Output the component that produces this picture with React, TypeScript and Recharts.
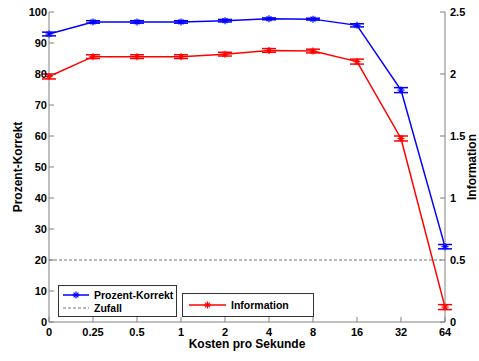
import React from 'react';
import { LineChart, Line, XAxis, YAxis, ErrorBar, ReferenceLine } from 'recharts';

const costs = ['0', '0.25', '0.5', '1', '2', '4', '8', '16', '32', '64'];
const percentCorrect = [92.9, 96.8, 96.8, 96.8, 97.2, 97.8, 97.7, 95.7, 74.8, 24.3];
const percentError = [0.6, 0.4, 0.4, 0.4, 0.4, 0.3, 0.3, 0.5, 0.8, 0.7];
const information = [1.98, 2.14, 2.14, 2.14, 2.16, 2.19, 2.185, 2.1, 1.48, 0.12];
const informationError = [0.02, 0.015, 0.015, 0.015, 0.015, 0.015, 0.015, 0.02, 0.02, 0.02];
const chanceLevel = 20;
const percentTicks = [0, 10, 20, 30, 40, 50, 60, 70, 80, 90, 100];
const infoTicks = [0, 0.5, 1, 1.5, 2, 2.5];

const data = costs.map((c, i) => ({
  cost: c,
  pc: percentCorrect[i],
  pcErr: percentError[i],
  info: information[i],
  infoErr: informationError[i],
}));

const FONT = '"Liberation Sans", Arial, sans-serif';
const AXIS = '#808080';
const tickStyle = { fontSize: 11, fill: '#000', fontWeight: 'bold' as const, fontFamily: FONT };

// MATLAB-style '*' marker
const Asterisk = (props: any) => {
  const { cx, cy, stroke } = props;
  if (cx == null || cy == null) return null;
  const r = 3.5;
  const d = r * 0.7;
  return (
    <g stroke={stroke} strokeWidth={1.2}>
      <line x1={cx - r} y1={cy} x2={cx + r} y2={cy} />
      <line x1={cx} y1={cy - r} x2={cx} y2={cy + r} />
      <line x1={cx - d} y1={cy - d} x2={cx + d} y2={cy + d} />
      <line x1={cx - d} y1={cy + d} x2={cx + d} y2={cy - d} />
    </g>
  );
};

const legendBox: React.CSSProperties = {
  position: 'absolute',
  background: '#fff',
  border: '1px solid #333',
  boxSizing: 'border-box',
  fontFamily: FONT,
  fontSize: 10.5,
  fontWeight: 'bold',
  color: '#000',
  whiteSpace: 'nowrap',
};

const legendRow: React.CSSProperties = {
  position: 'absolute',
  display: 'flex',
  alignItems: 'center',
  gap: 4,
  whiteSpace: 'nowrap',
  lineHeight: '12px',
};

const LegendLine = ({ color, dashed, star }: { color: string; dashed?: boolean; star?: boolean }) => (
  <svg width={27} height={8} style={{ display: 'block', flex: 'none' }}>
    <line x1={0} y1={4} x2={26} y2={4} stroke={color} strokeWidth={dashed ? 1 : 1.5} strokeDasharray={dashed ? '3 2' : undefined} />
    {star && <Asterisk cx={13} cy={4} stroke={color} />}
  </svg>
);

export default function App() {
  return (
    <div style={{ position: 'relative', width: 479, height: 361, background: '#fff' }}>
      <style>{'body{margin:0}'}</style>
      <LineChart width={479} height={361} data={data} margin={{ top: 12, right: 0, bottom: 0, left: 0 }}>
        <XAxis
          dataKey="cost"
          scale="point"
          height={39}
          stroke={AXIS}
          tickSize={-5}
          tickMargin={11}
          tick={tickStyle}
          interval={0}
        />
        <YAxis
          yAxisId="left"
          width={49}
          domain={[0, 100]}
          ticks={percentTicks}
          stroke={AXIS}
          tickSize={-5}
          tickMargin={7}
          tick={tickStyle}
          interval={0}
        />
        <YAxis
          yAxisId="right"
          orientation="right"
          width={34}
          domain={[0, 2.5]}
          ticks={infoTicks}
          stroke={AXIS}
          tickSize={-5}
          tickMargin={10}
          tick={tickStyle}
          interval={0}
        />
        <ReferenceLine yAxisId="left" y={chanceLevel} stroke="#777" strokeDasharray="3 2" />
        <Line
          yAxisId="left"
          dataKey="pc"
          stroke="#0000ff"
          strokeWidth={1.5}
          dot={<Asterisk stroke="#0000ff" />}
          isAnimationActive={false}
        >
          <ErrorBar dataKey="pcErr" width={7} stroke="#0000ff" strokeWidth={1.5} direction="y" />
        </Line>
        <Line
          yAxisId="right"
          dataKey="info"
          stroke="#ff0000"
          strokeWidth={1.5}
          dot={<Asterisk stroke="#ff0000" />}
          isAnimationActive={false}
        >
          <ErrorBar dataKey="infoErr" width={7} stroke="#ff0000" strokeWidth={1.5} direction="y" />
        </Line>
      </LineChart>

      {/* axis titles */}
      <div
        style={{
          position: 'absolute', left: 247, top: 337, transform: 'translateX(-50%)',
          fontFamily: FONT, fontSize: 12, fontWeight: 'bold', whiteSpace: 'nowrap',
        }}
      >
        Kosten pro Sekunde
      </div>
      <div
        style={{
          position: 'absolute', left: 18, top: 167, transform: 'translate(-50%, -50%) rotate(-90deg)',
          fontFamily: FONT, fontSize: 12, fontWeight: 'bold', whiteSpace: 'nowrap',
        }}
      >
        Prozent-Korrekt
      </div>
      <div
        style={{
          position: 'absolute', left: 472, top: 167, transform: 'translate(-50%, -50%) rotate(-90deg)',
          fontFamily: FONT, fontSize: 12, fontWeight: 'bold', whiteSpace: 'nowrap',
        }}
      >
        Information
      </div>

      {/* legends */}
      <div style={{ ...legendBox, left: 58, top: 285, width: 119, height: 32 }}>
        <div style={{ ...legendRow, left: 4, top: 3 }}>
          <LegendLine color="#0000ff" star />
          <span>Prozent-Korrekt</span>
        </div>
        <div style={{ ...legendRow, left: 4, top: 16 }}>
          <LegendLine color="#777" dashed />
          <span>Zufall</span>
        </div>
      </div>
      <div style={{ ...legendBox, left: 182, top: 293, width: 132, height: 24 }}>
        <div style={{ ...legendRow, left: 6, top: 5 }}>
          <svg width={38} height={8} style={{ display: 'block', flex: 'none' }}>
            <line x1={0} y1={4} x2={37} y2={4} stroke="#ff0000" strokeWidth={1.5} />
            <Asterisk cx={18.5} cy={4} stroke="#ff0000" />
          </svg>
          <span>Information</span>
        </div>
      </div>
    </div>
  );
}
